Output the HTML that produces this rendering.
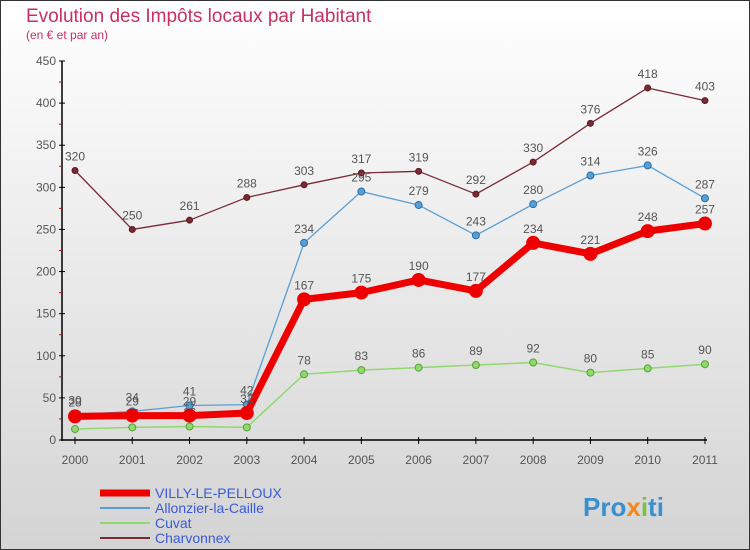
<!DOCTYPE html>
<html><head><meta charset="utf-8"><style>
body{margin:0;width:750px;height:550px;overflow:hidden;font-family:"Liberation Sans",sans-serif}
svg{display:block}
</style></head><body>
<svg width="750" height="550" xmlns="http://www.w3.org/2000/svg">
<defs><linearGradient id="bg" x1="0" y1="0" x2="0" y2="1"><stop offset="0" stop-color="#ffffff"/><stop offset="1" stop-color="#d4d4d4"/></linearGradient></defs>
<rect x="0.5" y="0.5" width="749" height="549" fill="url(#bg)" stroke="#333"/>
<text x="26" y="22" font-size="19" fill="#c8305e">Evolution des Impôts locaux par Habitant</text>
<text x="26" y="39" font-size="12" fill="#c8305e">(en € et par an)</text>
<g id="axes"></g>
<g id="series"></g>
<g id="legend"></g>
<text x="583" y="516" font-size="26" font-weight="bold" fill="#3a8fd0">Pro<tspan fill="#f08a20">x</tspan><tspan fill="#7ac143">i</tspan>ti</text>
</svg>
<script>
const years=["2000","2001","2002","2003","2004","2005","2006","2007","2008","2009","2010","2011"];
const yTicks=[0,50,100,150,200,250,300,350,400,450];
const villy=[28,29,29,32,167,175,190,177,234,221,248,257];
const allonzier=[30,34,41,42,234,295,279,243,280,314,326,287];
const cuvat=[13,15,16,15,78,83,86,89,92,80,85,90];
const charvonnex=[320,250,261,288,303,317,319,292,330,376,418,403];
const NS="http://www.w3.org/2000/svg";
function X(i){return 75+i*57.27;}
function Y(v){return 440-v*379/450;}
function mk(tag,attrs,parent,txt){const e=document.createElementNS(NS,tag);for(const k in attrs)e.setAttribute(k,attrs[k]);if(txt!==undefined)e.textContent=txt;parent.appendChild(e);return e;}
const ax=document.getElementById('axes');
let l=mk('line',{x1:62,y1:Y(450),x2:62,y2:441,stroke:'#000','stroke-width':1.5},ax);


l=mk('line',{x1:62,y1:440,x2:X(11)+2,y2:440,stroke:'#000','stroke-width':1.5},ax);


yTicks.forEach(v=>{
 mk('line',{x1:59,y1:Y(v),x2:65,y2:Y(v),stroke:'#000'},ax);
 const t=mk('text',{x:56,y:Y(v)+4,'font-size':12,fill:'#555','text-anchor':'end'},ax,String(v));
 
 
 if(v<450)mk('line',{x1:59,y1:Y(v+25),x2:62,y2:Y(v+25),stroke:'#d00'},ax);
});
years.forEach((y,i)=>{
 mk('line',{x1:X(i),y1:437,x2:X(i),y2:444,stroke:'#000'},ax);
 const t=mk('text',{x:X(i),y:464,'font-size':12,fill:'#555','text-anchor':'middle'},ax,y);
 
 
});
const sg=document.getElementById('series');
function draw(data,color,width,r,name,labels,dark){
 const g=mk('g',{},sg);
 
 
 const p=mk('polyline',{points:data.map((v,i)=>X(i)+','+Y(v)).join(' '),fill:'none',stroke:color,'stroke-width':width,'stroke-linejoin':'round'},g);
 
 
 data.forEach((v,i)=>{
  const c=mk('circle',{cx:X(i),cy:Y(v),r:r,fill:color,stroke:dark,'stroke-width':1},g);
  
  
  if(labels){
   const t=mk('text',{x:X(i),y:Y(v)-10,'font-size':12,fill:'#555','text-anchor':'middle'},g,String(v));
   
   
  }
 });
}
draw(charvonnex,'#7a2a34',1.3,3,'charvonnex',true,'#5a1a20');
draw(cuvat,'#90d870',1.5,3.5,'cuvat',true,'#5aa030');
draw(allonzier,'#5a9fd4',1.3,3.5,'allonzier',true,'#2a6fa4');
draw(villy,'#ee0000',7,6.5,'villy',true,'#ee0000');
const lg=document.getElementById('legend');
const items=[["VILLY-LE-PELLOUX","#ee0000",7],["Allonzier-la-Caille","#5a9fd4",2],["Cuvat","#90d870",2],["Charvonnex","#7a2a34",2]];
items.forEach((it,i)=>{
 const y=493+i*15;
 const ln=mk('line',{x1:100,y1:y,x2:150,y2:y,stroke:it[1],'stroke-width':it[2]},lg);
 
 
 const t=mk('text',{x:155,y:y+5,'font-size':14,fill:'#3a5ad8'},lg,it[0]);
 
 
});
</script>
</body></html>
